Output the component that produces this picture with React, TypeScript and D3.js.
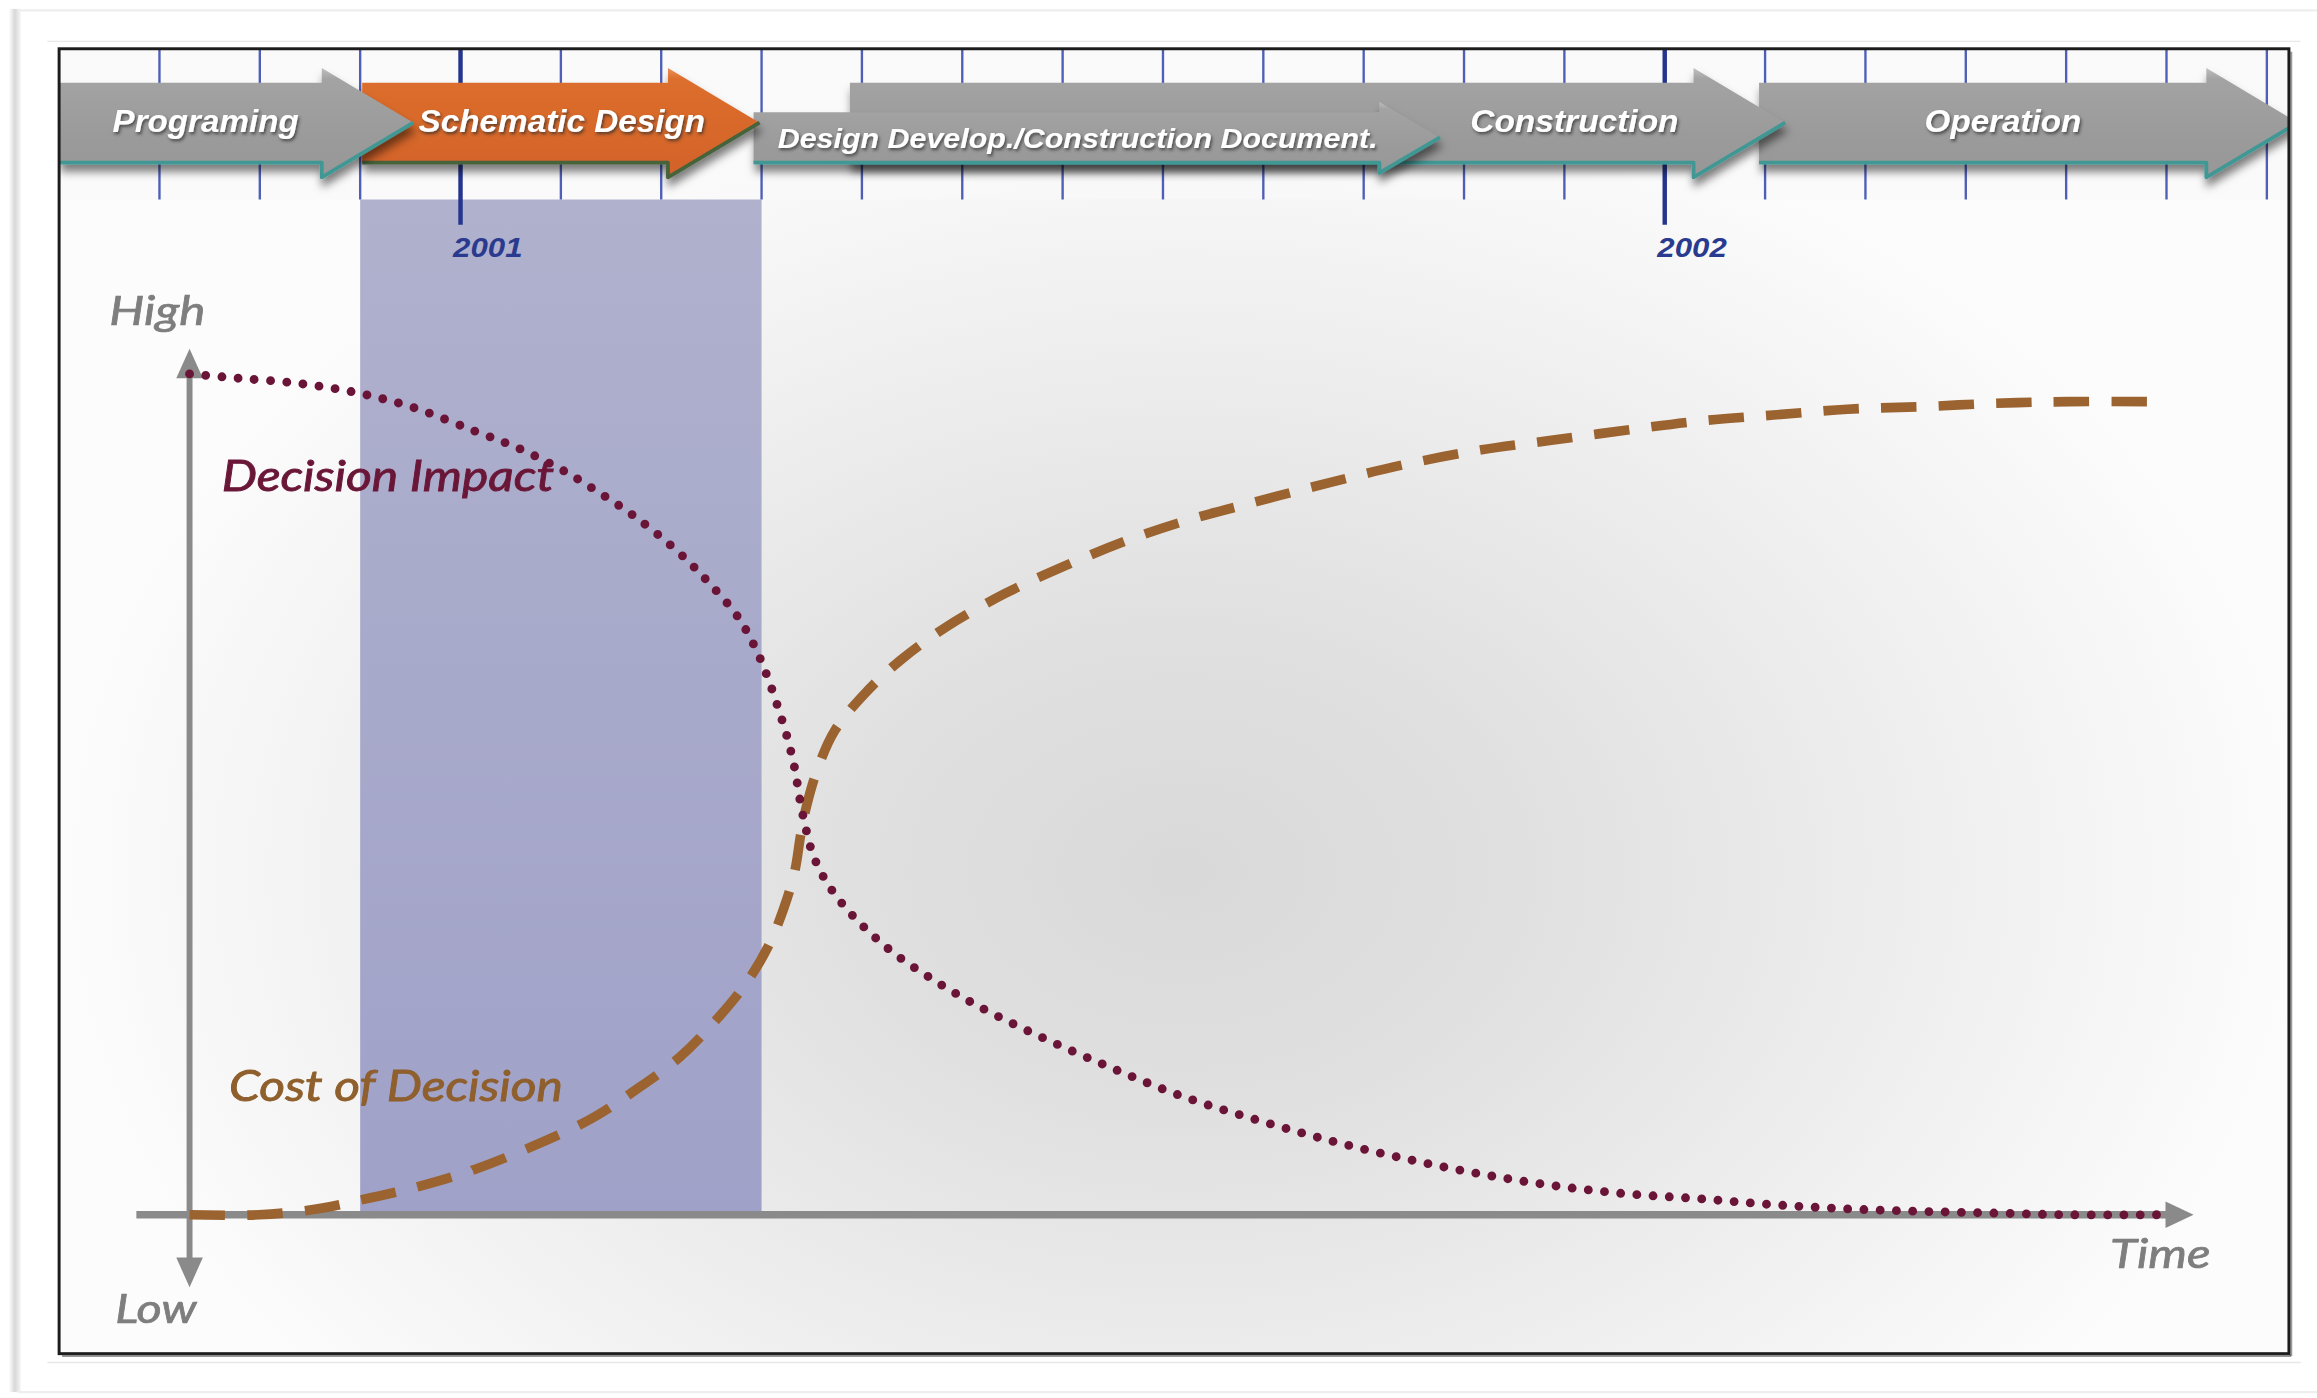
import React from 'react';
import * as d3 from 'd3';

// ---------- data ----------
// time in months relative to January 2001 (0 = Jan 2001, 12 = Jan 2002)
const monthTicks = d3.range(-3, 19);
const yearTickMonths = [0, 12];
const yearTickLabels = ['2001', '2002'];

const phaseNames = [
  'Programing',
  'Schematic Design',
  'Design Develop./Construction Document.',
  'Construction',
  'Operation',
];
const phaseStart = [-4, -0.98, 2.92, 3.88, 12.94];
const phaseEnd = [-0.47, 2.98, 9.76, 13.2, 18.31];
const phaseLabelAt = [-2.54, 1.01, 6.15, 11.1, 15.37];
const phaseRow = ['main', 'main', 'low', 'main', 'main'];
const phaseHighlighted = [false, true, false, false, false];

const shadedPeriod = [-1, 3];

const impactMonths = [-2.7, -2.23, -1.64, -1.05, -0.47, 0.12, 0.57, 1.01, 1.3, 1.74, 2.19, 2.48, 2.77, 2.95, 3.07, 3.17, 3.26, 3.33, 3.38, 3.44, 3.51, 3.63, 3.81, 4.03, 4.32, 4.69, 5.13, 5.72, 6.46, 7.19, 7.93, 8.67, 9.4, 10.14, 10.87, 11.61, 12.35, 13.08, 13.82, 14.56, 15.29, 16.03, 16.91];
const impactValues = [1.0, 0.995, 0.989, 0.978, 0.96, 0.933, 0.912, 0.886, 0.865, 0.83, 0.786, 0.751, 0.71, 0.671, 0.636, 0.601, 0.566, 0.531, 0.495, 0.46, 0.429, 0.399, 0.369, 0.341, 0.311, 0.281, 0.25, 0.215, 0.176, 0.141, 0.113, 0.088, 0.067, 0.049, 0.035, 0.025, 0.019, 0.012, 0.007, 0.004, 0.002, 0.0, 0.0];

const costMonths = [-2.7, -2.01, -1.42, -0.98, -0.47, 0.12, 0.71, 1.3, 1.74, 2.19, 2.55, 2.85, 3.07, 3.22, 3.33, 3.39, 3.45, 3.56, 3.73, 4.03, 4.39, 4.84, 5.43, 6.01, 6.6, 7.19, 7.93, 8.67, 9.4, 10.14, 10.87, 11.61, 12.35, 13.08, 13.82, 14.56, 15.29, 16.03, 16.91];
const costValues = [0.0, 0.0, 0.007, 0.018, 0.032, 0.053, 0.081, 0.114, 0.148, 0.188, 0.232, 0.276, 0.32, 0.364, 0.408, 0.452, 0.487, 0.531, 0.576, 0.62, 0.66, 0.699, 0.739, 0.771, 0.8, 0.824, 0.848, 0.871, 0.892, 0.909, 0.921, 0.933, 0.944, 0.951, 0.958, 0.961, 0.965, 0.967, 0.967];

const seriesLabels = ['Decision Impact', 'Cost of Decision'];
const axisLabels = ['High', 'Low', 'Time'];

// ---------- layout / style ----------
const W = 1568;
const H = 946;
const FRAME = { x0: 40, y0: 33, x1: 1549, y1: 916 };
const originMonth = -2.7;
const xAxisEndMonth = 17.27;

const GRAY = '#8a8a8a';
const MAROON = '#6a1537';
const BROWN = '#9a6330';
const TICK_BLUE = '#4f5fb8';
const MAJOR_BLUE = '#24358d';

const rowGeom: Record<string, { bt: number; bb: number; ht: number; hb: number; head: number; font: number; base: number }> = {
  main: { bt: 56, bb: 110, ht: 46, hb: 120, head: 62, font: 21, base: 89 },
  low: { bt: 76, bb: 110, ht: 69, hb: 117, head: 41, font: 18.5, base: 100 },
};
const labelWidths = [126, 194, 406, 141, 106];

export default function App() {
  const x = d3.scaleLinear().domain([-4, 18.22]).range([FRAME.x0, FRAME.x1]);
  const y = d3.scaleLinear().domain([0, 1]).range([822, 253]);

  const line = d3
    .line<[number, number]>()
    .x((d) => x(d[0]))
    .y((d) => y(d[1]))
    .curve(d3.curveCatmullRom.alpha(0.5));

  const impactPath = line(impactMonths.map((m, i) => [m, impactValues[i]]) as [number, number][]) || '';
  const costPath = line(costMonths.map((m, i) => [m, costValues[i]]) as [number, number][]) || '';

  const ox = x(originMonth);
  const oy = y(0);
  const xTip = x(xAxisEndMonth);

  const arrowPath = (i: number) => {
    const g = rowGeom[phaseRow[i]];
    const x0 = x(phaseStart[i]);
    const x1 = x(phaseEnd[i]);
    const hb = x1 - g.head;
    const cy = (g.ht + g.hb) / 2;
    return `M${x0},${g.bt}L${hb},${g.bt}L${hb},${g.ht}L${x1},${cy}L${hb},${g.hb}L${hb},${g.bb}L${x0},${g.bb}Z`;
  };
  const edgePath = (i: number) => {
    const g = rowGeom[phaseRow[i]];
    const x0 = x(phaseStart[i]);
    const x1 = x(phaseEnd[i]);
    const hb = x1 - g.head;
    const cy = (g.ht + g.hb) / 2;
    return `M${x0},${g.bb}L${hb},${g.bb}L${hb},${g.hb}L${x1},${cy}`;
  };

  const drawOrder = d3.range(phaseNames.length).reverse();

  return (
    <svg
      width={2317}
      height={1398}
      viewBox={`0 0 ${W} ${H}`}
      preserveAspectRatio="none"
      style={{ position: 'fixed', left: 0, top: 0, background: '#ffffff' }}
    >
      <defs>
        <radialGradient
          id="bg"
          gradientUnits="userSpaceOnUse"
          cx={800}
          cy={590}
          r={760}
          gradientTransform="translate(800 590) scale(1 0.72) translate(-800 -590)"
        >
          <stop offset="0" stopColor="#d9d9d9" />
          <stop offset="0.3" stopColor="#e0e0e0" />
          <stop offset="0.65" stopColor="#eeeeee" />
          <stop offset="1" stopColor="#fcfcfc" />
        </radialGradient>
        <linearGradient id="shade" x1="0" y1="0" x2="0" y2="1">
          <stop offset="0" stopColor="#afb1cd" />
          <stop offset="1" stopColor="#a0a1c8" />
        </linearGradient>
        <linearGradient id="grayArrow" x1="0" y1="0" x2="0" y2="1">
          <stop offset="0" stopColor="#bdbfc1" />
          <stop offset="0.1" stopColor="#a3a3a3" />
          <stop offset="0.6" stopColor="#9b9b9b" />
          <stop offset="1" stopColor="#979797" />
        </linearGradient>
        <linearGradient id="orangeArrow" x1="0" y1="0" x2="0" y2="1">
          <stop offset="0" stopColor="#ec9058" />
          <stop offset="0.1" stopColor="#dc6e2d" />
          <stop offset="1" stopColor="#d3622a" />
        </linearGradient>
        <linearGradient id="leftShadow" x1="0" y1="0" x2="1" y2="0">
          <stop offset="0" stopColor="#ffffff" />
          <stop offset="0.5" stopColor="#d8d8d8" />
          <stop offset="1" stopColor="#f4f4f4" />
        </linearGradient>
        <filter id="arrowShadow" x="-5%" y="-30%" width="110%" height="180%">
          <feDropShadow dx="1" dy="5" stdDeviation="3" floodColor="#000" floodOpacity="0.5" />
        </filter>
        <filter id="textShadow" x="-10%" y="-40%" width="120%" height="180%">
          <feDropShadow dx="1" dy="1.5" stdDeviation="1.1" floodColor="#2a2a2a" floodOpacity="0.7" />
        </filter>
        <filter id="softText" x="-10%" y="-40%" width="120%" height="180%">
          <feGaussianBlur stdDeviation="0.35" />
        </filter>
        <clipPath id="frameClip">
          <rect x={FRAME.x0} y={FRAME.y0} width={FRAME.x1 - FRAME.x0} height={FRAME.y1 - FRAME.y0} />
        </clipPath>
      </defs>

      {/* outer photo frame */}
      <rect x={0} y={0} width={W} height={H} fill="#ffffff" />
      <rect x={6} y={6} width={8} height={936} fill="url(#leftShadow)" />
      <line x1={12} y1={7} x2={1568} y2={7} stroke="#eeeeee" strokeWidth={1.5} />
      <line x1={12} y1={942} x2={1568} y2={942} stroke="#eeeeee" strokeWidth={1.5} />
      <line x1={32} y1={28} x2={1557} y2={28} stroke="#e8e8e8" strokeWidth={1} />
      <line x1={32} y1={922} x2={1557} y2={922} stroke="#e8e8e8" strokeWidth={1} />

      <g clipPath="url(#frameClip)">
        {/* background */}
        <rect x={FRAME.x0} y={FRAME.y0} width={FRAME.x1 - FRAME.x0} height={FRAME.y1 - FRAME.y0} fill="url(#bg)" />
        <rect x={FRAME.x0} y={FRAME.y0} width={FRAME.x1 - FRAME.x0} height={102} fill="#fafafb" opacity={0.7} />

        {/* schematic design period */}
        <rect
          x={x(shadedPeriod[0])}
          y={135}
          width={x(shadedPeriod[1]) - x(shadedPeriod[0])}
          height={oy - 135}
          fill="url(#shade)"
        />

        {/* month ticks */}
        {monthTicks.map((m) => {
          const major = yearTickMonths.includes(m);
          return (
            <line
              key={m}
              x1={x(m)}
              x2={x(m)}
              y1={FRAME.y0}
              y2={major ? 152 : 135}
              stroke={major ? MAJOR_BLUE : TICK_BLUE}
              strokeWidth={major ? 3 : 1.6}
            />
          );
        })}
        {yearTickMonths.map((m, i) => (
          <text
            key={m}
            x={x(m) - 5}
            y={174}
            fill="#2a3a8e"
            fontFamily="'Liberation Sans', Arial, sans-serif"
            fontWeight="bold"
            fontStyle="italic"
            fontSize={19}
            textLength={47}
            lengthAdjust="spacingAndGlyphs"
          >
            {yearTickLabels[i]}
          </text>
        ))}

        {/* phase arrows */}
        {drawOrder.map((i) => (
          <g key={i} filter="url(#arrowShadow)">
            <path d={arrowPath(i)} fill={phaseHighlighted[i] ? 'url(#orangeArrow)' : 'url(#grayArrow)'} />
            <path
              d={edgePath(i)}
              fill="none"
              stroke={phaseHighlighted[i] ? '#46633a' : '#3f9793'}
              strokeWidth={2.6}
              strokeLinejoin="round"
            />
          </g>
        ))}
        {phaseNames.map((name, i) => {
          const g = rowGeom[phaseRow[i]];
          return (
            <text
              key={name}
              x={x(phaseLabelAt[i])}
              y={g.base}
              textAnchor="middle"
              fill="#ffffff"
              fontFamily="'Liberation Sans', Arial, sans-serif"
              fontWeight="bold"
              fontStyle="italic"
              fontSize={g.font}
              textLength={labelWidths[i]}
              lengthAdjust="spacingAndGlyphs"
              filter="url(#textShadow)"
            >
              {name}
            </text>
          );
        })}

        {/* axes */}
        <line x1={ox} y1={y(1) - 10} x2={ox} y2={oy + 40} stroke={GRAY} strokeWidth={4} />
        <path d={`M${ox},${y(1) - 17}L${ox + 9},${y(1) + 3}L${ox - 9},${y(1) + 3}Z`} fill={GRAY} />
        <path d={`M${ox},${oy + 49}L${ox + 9},${oy + 29}L${ox - 9},${oy + 29}Z`} fill={GRAY} />
        <line x1={ox - 36} y1={oy} x2={xTip - 12} y2={oy} stroke={GRAY} strokeWidth={5} />
        <path d={`M${xTip},${oy}L${xTip - 19},${oy - 9}L${xTip - 19},${oy + 9}Z`} fill={GRAY} />

        {/* curves */}
        <path d={costPath} fill="none" stroke={BROWN} strokeWidth={6.5} strokeDasharray="24 15" />
        <path
          d={impactPath}
          fill="none"
          stroke={MAROON}
          strokeWidth={6}
          strokeLinecap="round"
          strokeDasharray="0 11"
        />

        {/* labels */}
        <g fontFamily="Lato, 'Open Sans', sans-serif" fontStyle="italic" filter="url(#softText)">
          <text x={74} y={220} fill="#7e7e7e" stroke="#7e7e7e" strokeWidth={0.5} fontSize={28} textLength={65} lengthAdjust="spacingAndGlyphs">
            {axisLabels[0]}
          </text>
          <text x={78} y={895} fill="#7e7e7e" stroke="#7e7e7e" strokeWidth={0.5} fontSize={28} textLength={55} lengthAdjust="spacingAndGlyphs">
            {axisLabels[1]}
          </text>
          <text x={1428} y={858} fill="#7e7e7e" stroke="#7e7e7e" strokeWidth={0.5} fontSize={28} textLength={68} lengthAdjust="spacingAndGlyphs">
            {axisLabels[2]}
          </text>
          <text x={150} y={332} fill={MAROON} stroke={MAROON} strokeWidth={0.6} fontSize={29} textLength={225} lengthAdjust="spacingAndGlyphs">
            {seriesLabels[0]}
          </text>
          <text x={155} y={745} fill="#8f5f2d" stroke="#8f5f2d" strokeWidth={0.6} fontSize={29} textLength={226} lengthAdjust="spacingAndGlyphs">
            {seriesLabels[1]}
          </text>
        </g>
      </g>

      {/* frame border */}
      <rect
        x={FRAME.x0}
        y={FRAME.y0}
        width={FRAME.x1 - FRAME.x0}
        height={FRAME.y1 - FRAME.y0}
        fill="none"
        stroke="#1c1c1c"
        strokeWidth={2}
      />
      <line x1={FRAME.x1 + 1.5} y1={FRAME.y0 + 2} x2={FRAME.x1 + 1.5} y2={FRAME.y1 + 1.5} stroke="#555" strokeWidth={1.5} opacity={0.6} />
      <line x1={FRAME.x0 + 2} y1={FRAME.y1 + 1.5} x2={FRAME.x1 + 1.5} y2={FRAME.y1 + 1.5} stroke="#555" strokeWidth={1.5} opacity={0.6} />
    </svg>
  );
}
